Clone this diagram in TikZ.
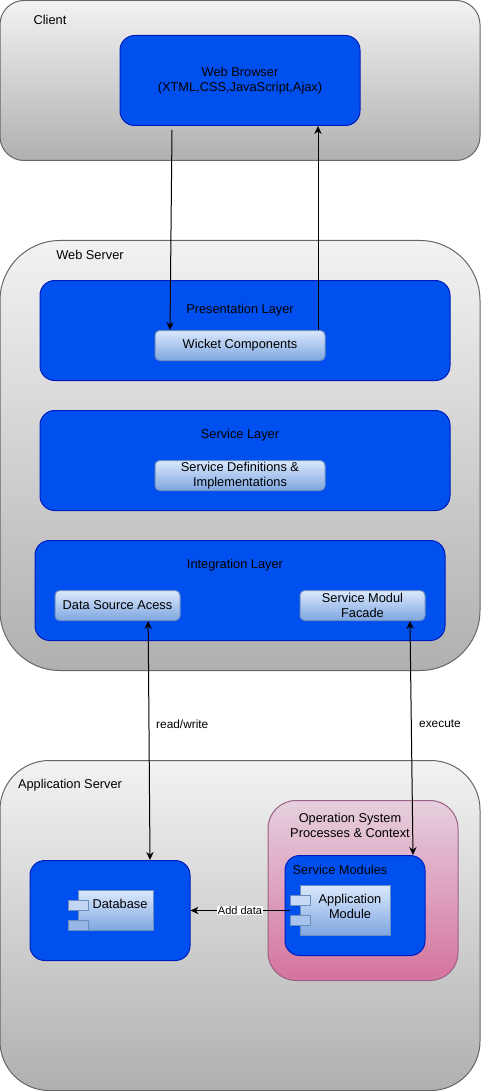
\documentclass[tikz,border=0pt]{standalone}
\usepackage{fontspec}
\setmainfont{Liberation Sans}
\usetikzlibrary{arrows.meta}

\definecolor{bluefill}{HTML}{0050EF}
\definecolor{blueline}{HTML}{001DBC}
\definecolor{lightline}{HTML}{6C8EBF}
\definecolor{lighttop}{HTML}{DAE8FC}
\definecolor{lightend}{HTML}{7EA6E0}
\definecolor{pinkline}{HTML}{996185}
\definecolor{pinktop}{HTML}{E6D0DE}
\definecolor{pinkend}{HTML}{D5739D}

\tikzset{
  box/.style={shape=rectangle,inner sep=0pt,line width=0.75pt,align=center,
    font=\fontsize{9.6}{11.25}\selectfont},
  tier/.style={box,draw=black!60,top color=black!5,bottom color=black!31},
  layer/.style={box,draw=blueline,fill=bluefill,rounded corners=11pt},
  unit/.style={box,draw=lightline,top color=lighttop,bottom color=lightend},
  port/.style={box,draw=lightline,minimum width=15pt,minimum height=7.5pt},
  caption/.style={inner sep=0pt,align=center,font=\fontsize{9.6}{11.25}\selectfont},
  flowlabel/.style={inner sep=0.5pt,font=\fontsize{8.9}{10}\selectfont},
  flow/.style={line width=0.75pt,-{Stealth[length=6pt,width=5.5pt]}},
  twoway/.style={line width=0.75pt,{Stealth[length=6pt,width=5.5pt]}-{Stealth[length=6pt,width=5.5pt]}}
}

\begin{document}
\begin{tikzpicture}[x=0.75pt,y=-0.75pt]
    \useasboundingbox (0,0) rectangle (481,1091);

    % tiers
    \node[tier,rounded corners=18pt,minimum width=360pt,minimum height=120pt] (client) at (240,80.5) {};
    \node[tier,rounded corners=45pt,minimum width=360pt,minimum height=322.5pt] (webserver) at (240,455.5) {};
    \node[tier,rounded corners=37pt,minimum width=360pt,minimum height=247.5pt] (appserver) at (240,925.5) {};

    \node[caption] (clienttext) at (50,19.5) {Client};
    \node[caption] (webtext) at (90,255) {Web Server};
    \node[caption] (apptext) at (70,785) {Application Server};

    % client
    \node[layer,minimum width=180pt,minimum height=67.5pt] (browser) at (240,80.5) {};
    \node[caption] (browsertext) at (240,81) {Web Browser\\(XTML,CSS,JavaScript,Ajax)};

    % web server layers
    \node[layer,minimum width=307.5pt,minimum height=75pt] (presentation) at (245,330.5) {};
    \node[layer,minimum width=307.5pt,minimum height=75pt] (service) at (245,460.5) {};
    \node[layer,minimum width=307.5pt,minimum height=75pt] (integration) at (240,590.5) {};

    \node[caption] (presentationtext) at (240,310.5) {Presentation Layer};
    \node[caption] (servicetext) at (240,435.5) {Service Layer};
    \node[caption] (integrationtext) at (235,565.5) {Integration Layer};

    \node[unit,rounded corners=3.5pt,minimum width=127.5pt,minimum height=22.5pt] (wicket) at (240,345.5) {Wicket Components};
    \node[unit,rounded corners=3.5pt,minimum width=127.5pt,minimum height=22.5pt] (definitions) at (240,475.5) {Service Definitions \&\\Implementations};
    \node[unit,rounded corners=3.5pt,minimum width=93.75pt,minimum height=22.5pt] (datasource) at (117.5,605.5) {Data Source Acess};
    \node[unit,rounded corners=3.5pt,minimum width=93.75pt,minimum height=22.5pt] (facade) at (362.5,605.5) {Service Modul\\Facade};

    % application server
    \node[box,draw=pinkline,rounded corners=21pt,minimum width=142.5pt,minimum height=135pt,
      top color=pinktop,bottom color=pinkend] (system) at (363,890.5) {};
    \node[caption] (systemtext) at (350,825.5) {Operation System\\Processes \& Context};

    \node[layer,minimum width=120pt,minimum height=75pt] (database) at (110,910.5) {};
    \node[layer,minimum width=105pt,minimum height=75pt] (modules) at (355,905.5) {};
    \node[caption] (modulestext) at (340,870) {Service Modules};

    \node[unit,minimum width=56.25pt,minimum height=30pt] (dbcomp) at (115.5,910.5) {};
    \node[port,fill=lighttop!75!lightend] (dbporta) at (78,905.5) {};
    \node[port,fill=lighttop!25!lightend] (dbportb) at (78,925.5) {};
    \node[caption] (dbtext) at (120,904) {Database};

    \node[unit,minimum width=67.5pt,minimum height=37.5pt] (appmodule) at (345,910.5) {};
    \node[port,fill=lighttop!80!lightend] (appporta) at (300,900.5) {};
    \node[port,fill=lighttop!45!lightend] (appportb) at (300,920.5) {};
    \node[caption] (appmoduletext) at (350,906.5) {Application\\Module};

    % connectors
    \draw[flow] ([xshift=-51pt,yshift=-3pt]browser.south) -- ([xshift=-52.5pt]wicket.north);
    \draw[flow] ([xshift=58.5pt]wicket.north) -- ([xshift=58.5pt]browser.south);
    \draw[twoway] ([xshift=23pt]datasource.south) -- node[flowlabel,pos=0.43,xshift=25pt] (readwrite) {read/write} ([xshift=30pt]database.north);
    \draw[twoway] ([xshift=35.6pt]facade.south) -- node[flowlabel,pos=0.44,xshift=21.5pt] (execute) {execute} ([xshift=43.5pt]modules.north);
    \draw[flow] ([xshift=-7.5pt]appmodule.west) -- node[flowlabel,fill=white,font=\fontsize{8.25}{10}\selectfont] (adddata) {Add data} (database.east);

  \end{tikzpicture}
\end{document}
